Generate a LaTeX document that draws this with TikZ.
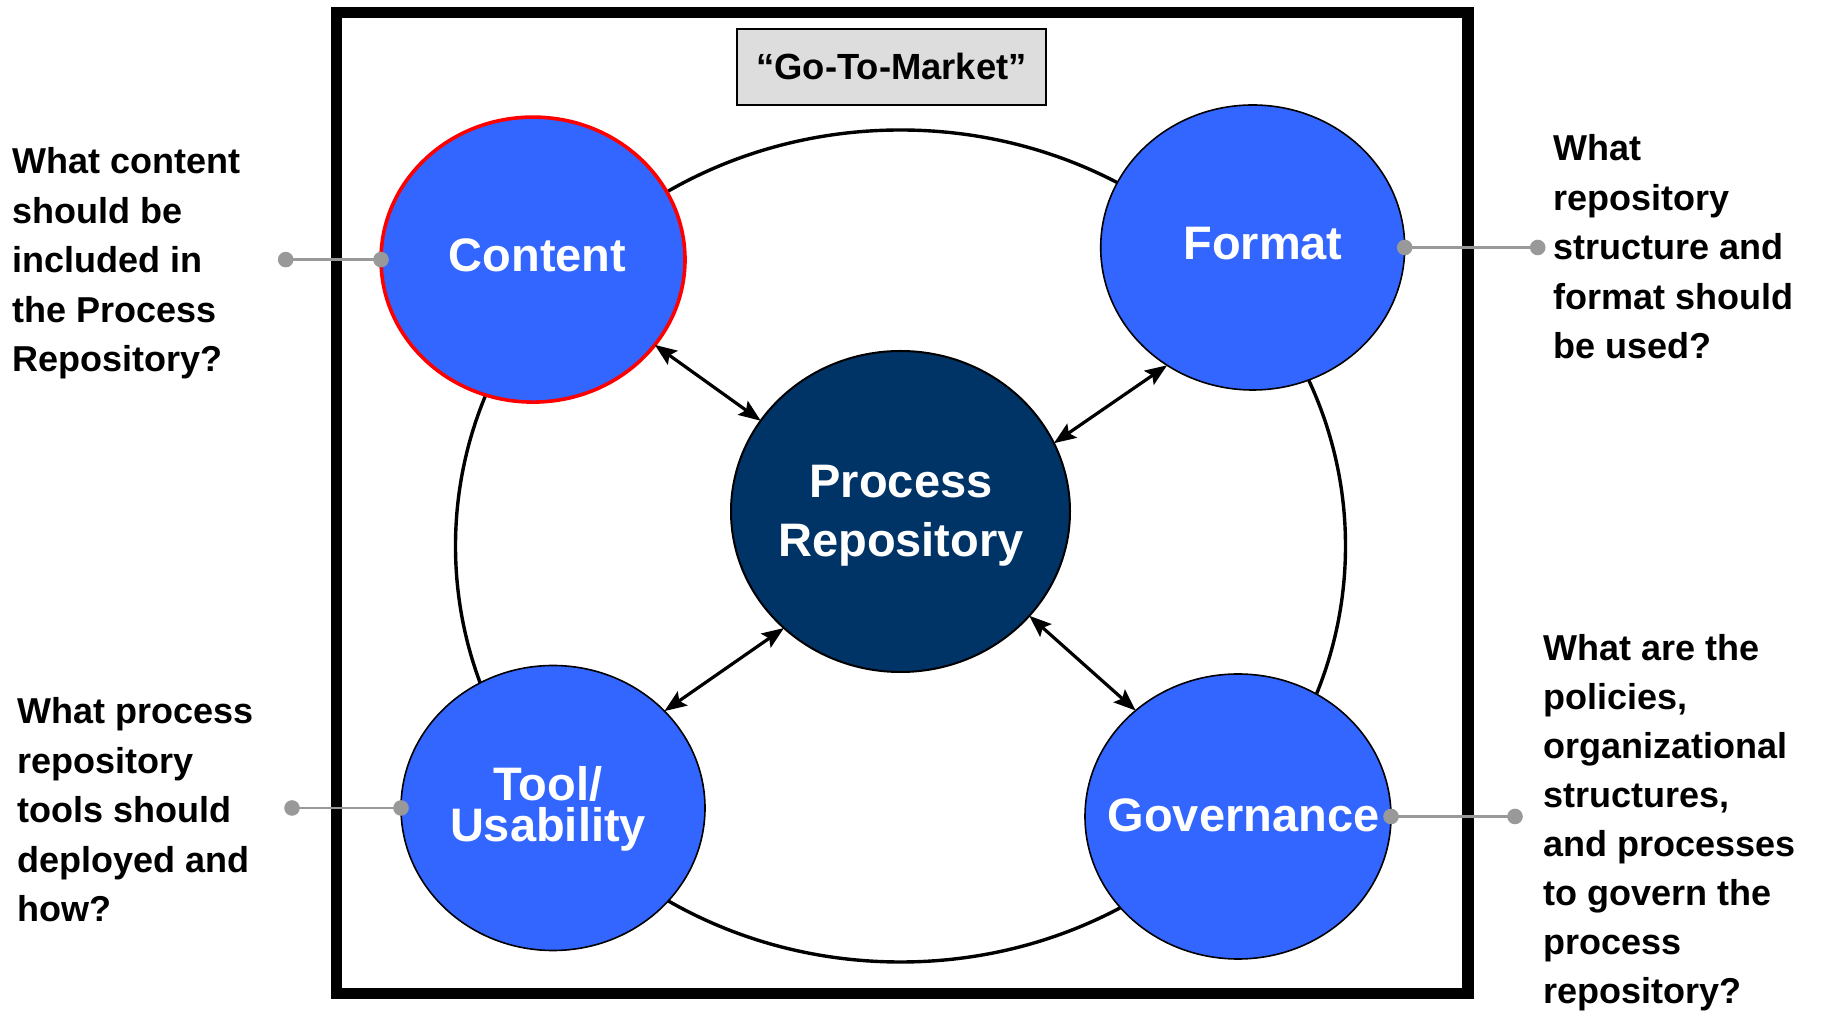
\documentclass[tikz,border=0pt]{standalone}
\usepackage{fontspec}
\setmainfont{Liberation Sans}
\usetikzlibrary{shapes.geometric,arrows.meta}
\definecolor{bubblue}{RGB}{51,102,255}
\definecolor{repnavy}{RGB}{0,51,102}
\definecolor{calloutgray}{RGB}{153,153,153}
\definecolor{boxgray}{RGB}{221,221,221}

\begin{document}
\begin{tikzpicture}[x=0.5pt, y=0.5pt,
    bubble/.style={ellipse, draw=black, line width=0.8pt, fill=bubblue,
        minimum width=152pt, minimum height=142.5pt, inner sep=0pt, outer sep=0pt},
    bubtext/.style={text=white, font=\fontsize{23.5}{29.5}\selectfont\bfseries,
        align=center, inner sep=0pt, anchor=base},
    question/.style={font=\fontsize{18}{24.75}\selectfont\bfseries,
        align=left, inner sep=0pt, anchor=base west},
    link/.style={line width=1.6pt,
        {Stealth[length=11pt,width=8.5pt,inset=2pt]}-{Stealth[length=11pt,width=8.5pt,inset=2pt]}},
    callout/.style={draw=calloutgray, line width=1.3pt}]
    \useasboundingbox (0,0) rectangle (1822,1012);
    \draw[line width=5.8pt]
        (336.5,18.5) rectangle (1468,999.5);

    \node[draw, line width=0.9pt, fill=boxgray, minimum width=154.5pt,
        minimum height=38pt, inner sep=0pt, font=\fontsize{18.2}{22}\selectfont\bfseries]
        (gtm) at (891.5,945) {“Go-To-Market”};
    \node[ellipse, draw, line width=1.7pt, minimum width=445pt,
        minimum height=416pt, inner sep=0pt] (ring) at (900.5,466) {};

    \node[bubble, draw=red, line width=1.8pt] (content) at (533,752.4) {};
    \node[bubble] (format) at (1252.7,764.5) {};
    \node[bubble] (tool) at (553,204) {};
    \node[bubble, minimum width=153pt] (gov) at (1238,195.5) {};
    \node[bubble, fill=repnavy, line width=1pt, minimum width=169.5pt,
        minimum height=160.5pt] (pr) at (900.5,500.5) {};

    \draw[link] (content.325) -- (pr.147);
    \draw[link] (format.234) -- (pr.24);
    \draw[link] (tool.41) -- (pr.225);
    \draw[link] (gov.134) -- (pr.321);

    \node[bubtext] (contentlbl) at (537.5,740) {Content};
    \node[bubtext] (formatlbl) at (1263,752) {Format};
    \node[bubtext] (prlbl) at (901,455) {Process\\Repository};
    \node[bubtext, font=\fontsize{23.5}{20.5}\selectfont\bfseries]
        (toollbl) at (548,170) {Tool/\\Usability};
    \node[bubtext] (govlbl) at (1243.5,180) {Governance};

    \coordinate (ccontent) at (285.7,752.4);
    \coordinate (cformat) at (1537.7,764.5);
    \coordinate (ctool) at (292,204);
    \coordinate (cgov) at (1515,195.5);
    \draw[callout] (ccontent) -- (content.west);
    \draw[callout] (format.east) -- (cformat);
    \draw[callout] (ctool) -- (tool.west);
    \draw[callout] (gov.east) -- (cgov);
    \fill[calloutgray]
        (ccontent) circle (3.9pt) (content.west) circle (3.9pt)
        (cformat) circle (3.9pt) (format.east) circle (3.9pt)
        (ctool) circle (3.9pt) (tool.west) circle (3.9pt)
        (cgov) circle (3.9pt) (gov.east) circle (3.9pt);

    \node[question] (qcontent) at (12,640)
        {What content\\should be\\included in\\the Process\\Repository?};
    \node[question] (qtool) at (17.3,90)
        {What process\\repository\\tools should\\deployed and\\how?};
    \node[question] (qformat) at (1553,653)
        {What\\repository\\structure and\\format should\\be used?};
    \node[question, font=\fontsize{18}{24.5}\selectfont\bfseries] (qgov) at (1543,8)
        {What are the\\policies,\\organizational\\structures,\\and processes\\to govern the\\process\\repository?};
\end{tikzpicture}
\end{document}
